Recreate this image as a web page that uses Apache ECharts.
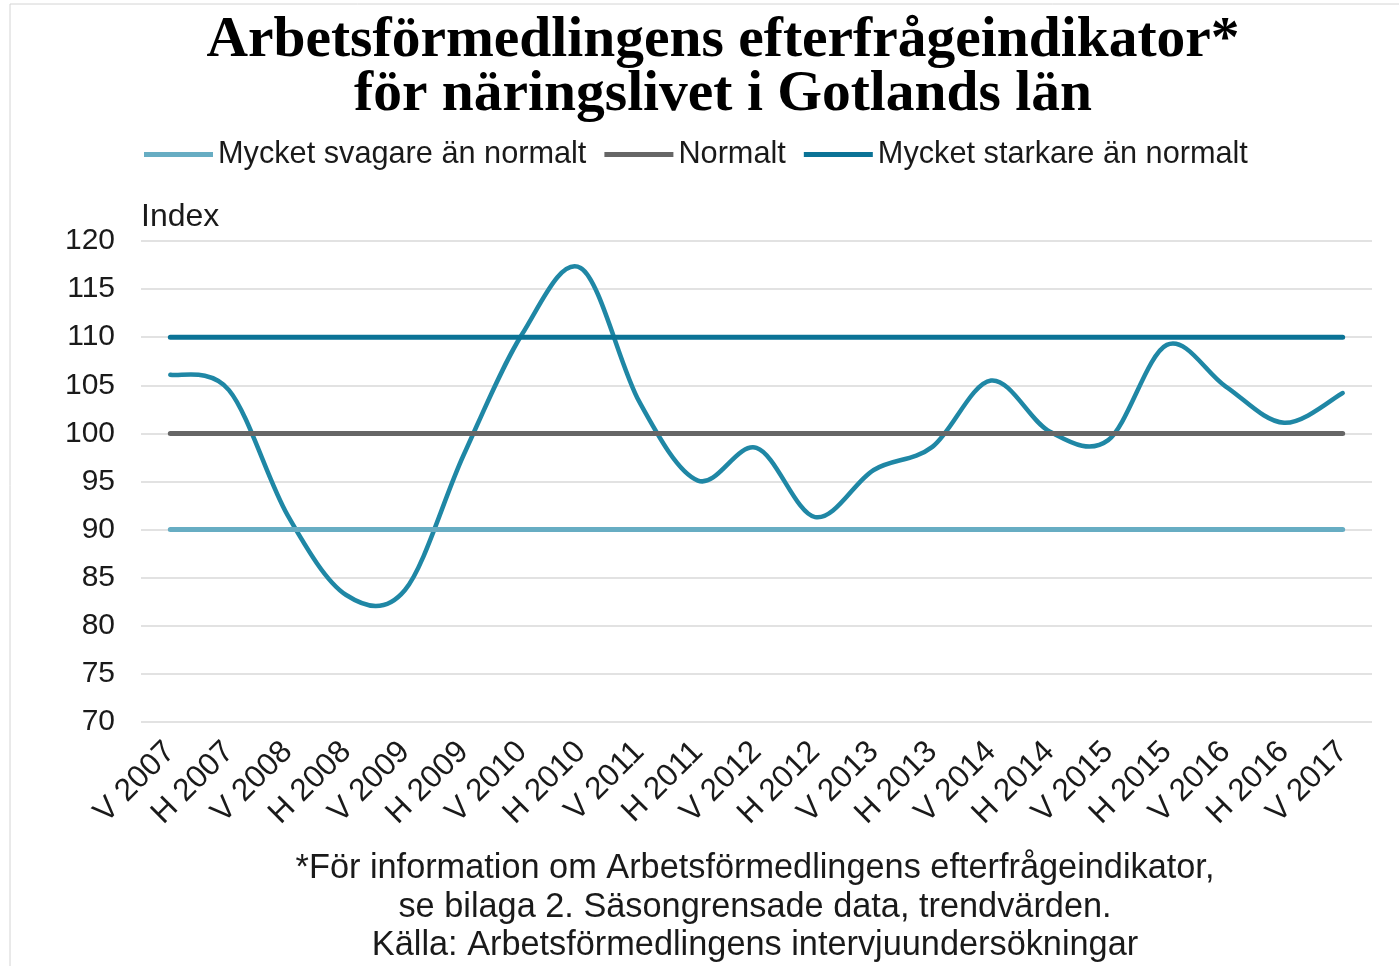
<!DOCTYPE html>
<html>
<head>
<meta charset="utf-8">
<script src="https://cdn.jsdelivr.net/npm/echarts@6/dist/echarts.min.js"></script>
<style>
  html, body { margin: 0; padding: 0; background: #fff; }
  #chart { width: 1399px; height: 966px; }
</style>
</head>
<body>
<div id="chart"></div>
<script>
var categories = ['V 2007', 'H 2007', 'V 2008', 'H 2008', 'V 2009', 'H 2009', 'V 2010', 'H 2010',
  'V 2011', 'H 2011', 'V 2012', 'H 2012', 'V 2013', 'H 2013', 'V 2014', 'H 2014', 'V 2015',
  'H 2015', 'V 2016', 'H 2016', 'V 2017'];
var gotland = [106.1, 104.5, 91.5, 83.2, 83.7, 97.7, 110.3, 117.2, 103.3, 95.1, 98.5,
  91.3, 96.2, 98.6, 105.5, 100.2, 99.3, 109.2, 104.9, 101.1, 104.2];
var svagare = 90, normalt = 100, starkare = 110;

function flat(v) {
  return categories.map(function () { return v; });
}

var chart = echarts.init(document.getElementById('chart'));
var font = 'Liberation Sans, Arial, sans-serif';

// Excel-like smoothing (Catmull-Rom through the data points, overshoot allowed)
function renderSmooth(params, api) {
  if (params.dataIndex !== 0) return null;
  var pts = gotland.map(function (v, i) { return api.coord([i, v]); });
  var k = 1 / 6;
  var d = 'M' + pts[0][0] + ' ' + pts[0][1];
  for (var i = 0; i < pts.length - 1; i++) {
    var p0 = pts[i - 1] || pts[i];
    var p1 = pts[i];
    var p2 = pts[i + 1];
    var p3 = pts[i + 2] || pts[i + 1];
    var c1x = p1[0] + (p2[0] - p0[0]) * k, c1y = p1[1] + (p2[1] - p0[1]) * k;
    var c2x = p2[0] - (p3[0] - p1[0]) * k, c2y = p2[1] - (p3[1] - p1[1]) * k;
    d += ' C' + c1x + ' ' + c1y + ' ' + c2x + ' ' + c2y + ' ' + p2[0] + ' ' + p2[1];
  }
  return {
    type: 'path',
    shape: { pathData: d },
    style: { fill: 'none', stroke: '#1f87a5', lineWidth: 4.5, lineCap: 'round', lineJoin: 'round' }
  };
}

var option = {
  animation: false,
  backgroundColor: '#fff',
  title: [{
    text: 'Arbetsförmedlingens efterfrågeindikator*\nför näringslivet i Gotlands län',
    left: 718,
    top: 9,
    textAlign: 'center',
    textStyle: {
      fontFamily: 'Liberation Serif, Times New Roman, serif',
      fontSize: 57.5,
      fontWeight: 'bold',
      lineHeight: 54,
      color: '#000'
    }
  }, {
    text: 'Index',
    left: 136,
    top: 196,
    textStyle: { fontFamily: font, fontSize: 32, fontWeight: 'normal', color: '#1a1a1a' }
  }, {
    text: '*För information om Arbetsförmedlingens efterfrågeindikator,\nse bilaga 2. Säsongrensade data, trendvärden.\nKälla: Arbetsförmedlingens intervjuundersökningar',
    left: 750,
    top: 844,
    textAlign: 'center',
    textStyle: { fontFamily: font, fontSize: 34.3, fontWeight: 'normal', lineHeight: 38.8, color: '#1a1a1a' }
  }],
  graphic: [{
    type: 'rect',
    shape: { x: 10, y: 4, width: 1600, height: 1600 },
    style: { fill: 'none', stroke: '#d4d4d4', lineWidth: 1 },
    silent: true
  }],
  legend: {
    data: ['Mycket svagare än normalt', 'Normalt', 'Mycket starkare än normalt'],
    left: 139,
    top: 134,
    itemWidth: 69,
    itemHeight: 5,
    itemGap: 18,
    icon: 'rect',
    textStyle: { fontFamily: font, fontSize: 30.7, color: '#1a1a1a' }
  },
  grid: { left: 141, right: 27, top: 241, bottom: 244, containLabel: false },
  xAxis: {
    type: 'category',
    data: categories,
    boundaryGap: true,
    axisLine: { show: false },
    axisTick: { show: false },
    axisLabel: {
      rotate: 45,
      interval: 0,
      margin: 25,
      fontFamily: font,
      fontSize: 31.5,
      color: '#1a1a1a'
    }
  },
  yAxis: {
    type: 'value',
    min: 70,
    max: 120,
    interval: 5,
    axisLine: { show: false },
    axisTick: { show: false },
    axisLabel: { fontFamily: font, fontSize: 30, color: '#1a1a1a', margin: 26 },
    splitLine: { lineStyle: { color: '#d9d9d9', width: 1.5 } }
  },
  series: [{
    name: 'Mycket svagare än normalt',
    type: 'line',
    data: flat(svagare),
    symbol: 'none',
    lineStyle: { color: '#67adc3', width: 5, cap: 'round' },
    itemStyle: { color: '#67adc3' }
  }, {
    name: 'Normalt',
    type: 'line',
    data: flat(normalt),
    symbol: 'none',
    lineStyle: { color: '#666666', width: 5, cap: 'round' },
    itemStyle: { color: '#666666' }
  }, {
    name: 'Mycket starkare än normalt',
    type: 'line',
    data: flat(starkare),
    symbol: 'none',
    lineStyle: { color: '#0b7396', width: 5, cap: 'round' },
    itemStyle: { color: '#0b7396' }
  }, {
    name: 'Gotlands län',
    type: 'custom',
    coordinateSystem: 'cartesian2d',
    data: gotland.map(function (v, i) { return [i, v]; }),
    encode: { x: 0, y: 1 },
    renderItem: renderSmooth,
    itemStyle: { color: '#1f87a5' },
    z: 3
  }]
};

chart.setOption(option);
</script>
</body>
</html>
